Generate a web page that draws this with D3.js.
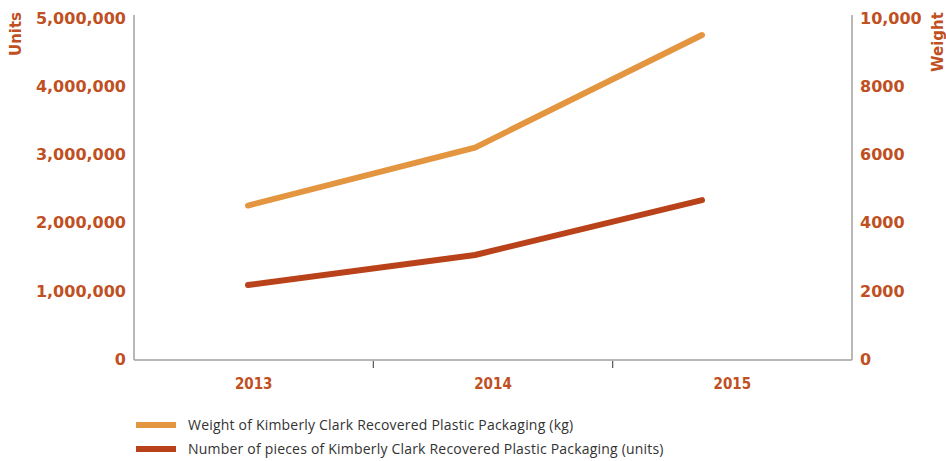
<!DOCTYPE html>
<html>
<head>
<meta charset="utf-8">
<script src="https://cdn.jsdelivr.net/npm/d3@7"></script>
<style>
  body { margin: 0; background: #fff; }
  svg { display: block; }
</style>
</head>
<body>
<div id="chart"></div>
<script>
// data
var years = ["2013", "2014", "2015"];
var weightKg = [4500, 6200, 9500];
var pieces = [1085000, 1525000, 2330000];
var unitTicks = [0, 1000000, 2000000, 3000000, 4000000, 5000000];
var weightTicks = [0, 2000, 4000, 6000, 8000, 10000];
var legendLabels = [
    "Weight of Kimberly Clark Recovered Plastic Packaging (kg)",
    "Number of pieces of Kimberly Clark Recovered Plastic Packaging (units)"
];

var orange = "#e3963f", rust = "#b9421a", labelColor = "#c0501f";

var W = 946, H = 461;
var margin = {top: 18, right: 94, bottom: 102, left: 134},
    width = W - margin.left - margin.right,
    height = H - margin.top - margin.bottom;

var svg = d3.select("#chart").append("svg")
    .attr("width", W)
    .attr("height", H);

var g = svg.append("g")
    .attr("transform", "translate(" + margin.left + "," + margin.top + ")");

// x: bands for the year labels, points for the lines
var x = d3.scaleBand().domain(years).range([0, width]);
var xLine = d3.scalePoint().domain(years).range([114, 568]);

var yUnits = d3.scaleLinear().domain([0, 5000000]).range([height, 0]);
var yWeight = d3.scaleLinear().domain([0, 10000]).range([height, 0]);

// axis frame lines
g.append("line")
    .attr("x1", 0).attr("x2", 0)
    .attr("y1", -3).attr("y2", height + 1)
    .attr("stroke", "#a0a0a0").attr("stroke-width", 1.5);
g.append("line")
    .attr("x1", width).attr("x2", width)
    .attr("y1", -3).attr("y2", height + 1)
    .attr("stroke", "#a0a0a0").attr("stroke-width", 1.5);
g.append("line")
    .attr("x1", 0).attr("x2", width)
    .attr("y1", height + 1).attr("y2", height + 1)
    .attr("stroke", "#a0a0a0").attr("stroke-width", 1.5);

// tick marks between years
g.selectAll(".xtick")
    .data(years.slice(1))
    .enter().append("line")
    .attr("x1", function(d) { return x(d); })
    .attr("x2", function(d) { return x(d); })
    .attr("y1", height + 2)
    .attr("y2", height + 9)
    .attr("stroke", "#555").attr("stroke-width", 1.2);

var fmt = d3.format(",");

g.selectAll(".ylab")
    .data(unitTicks)
    .enter().append("text")
    .attr("x", -8)
    .attr("y", function(d) { return yUnits(d); })
    .attr("dy", "0.36em")
    .attr("text-anchor", "end")
    .style("font-family", "DejaVu Sans")
    .style("font-weight", "bold")
    .style("font-size", "16px")
    .style("fill", labelColor)
    .text(function(d) { return fmt(d); });

g.selectAll(".y2lab")
    .data(weightTicks)
    .enter().append("text")
    .attr("x", width + 8)
    .attr("y", function(d) { return yWeight(d); })
    .attr("dy", "0.36em")
    .attr("text-anchor", "start")
    .style("font-family", "DejaVu Sans")
    .style("font-weight", "bold")
    .style("font-size", "16px")
    .style("fill", labelColor)
    .text(function(d) { return d === 10000 ? fmt(d) : d; });

g.selectAll(".xlab")
    .data(years)
    .enter().append("text")
    .attr("x", function(d) { return x(d) + x.bandwidth() / 2; })
    .attr("y", height + 30)
    .attr("text-anchor", "middle")
    .style("font-family", "DejaVu Sans Condensed")
    .style("font-weight", "bold")
    .style("font-size", "15px")
    .style("fill", labelColor)
    .text(function(d) { return d; });

// axis titles
svg.append("text")
    .attr("transform", "translate(21,34) rotate(-90)")
    .attr("text-anchor", "middle")
    .style("font-family", "DejaVu Sans")
    .style("font-weight", "bold")
    .style("font-size", "15px")
    .style("fill", labelColor)
    .text("Units");

svg.append("text")
    .attr("transform", "translate(943,42) rotate(-90)")
    .attr("text-anchor", "middle")
    .style("font-family", "DejaVu Sans")
    .style("font-weight", "bold")
    .style("font-size", "15px")
    .style("fill", labelColor)
    .text("Weight");

// lines
var weightLine = d3.line()
    .x(function(d, i) { return xLine(years[i]); })
    .y(function(d) { return yWeight(d); });

var piecesLine = d3.line()
    .x(function(d, i) { return xLine(years[i]); })
    .y(function(d) { return yUnits(d); });

g.append("path")
    .datum(weightKg)
    .attr("d", weightLine)
    .attr("fill", "none")
    .attr("stroke", orange)
    .attr("stroke-width", 6)
    .attr("stroke-linecap", "round")
    .attr("stroke-linejoin", "round");

g.append("path")
    .datum(pieces)
    .attr("d", piecesLine)
    .attr("fill", "none")
    .attr("stroke", rust)
    .attr("stroke-width", 6)
    .attr("stroke-linecap", "round")
    .attr("stroke-linejoin", "round");

// legend
var legend = svg.selectAll(".legend")
    .data(legendLabels)
    .enter().append("g")
    .attr("transform", function(d, i) { return "translate(136," + (425 + i * 24) + ")"; });

legend.append("line")
    .attr("x1", 0).attr("x2", 40)
    .attr("y1", 0).attr("y2", 0)
    .attr("stroke", function(d, i) { return i === 0 ? orange : rust; })
    .attr("stroke-width", 6);

legend.append("text")
    .attr("x", 52)
    .attr("y", 0)
    .attr("dy", "0.35em")
    .style("font-family", "Open Sans")
    .style("font-size", "14px")
    .style("letter-spacing", "0.2px")
    .style("fill", "#333")
    .text(function(d) { return d; });
</script>
</body>
</html>
